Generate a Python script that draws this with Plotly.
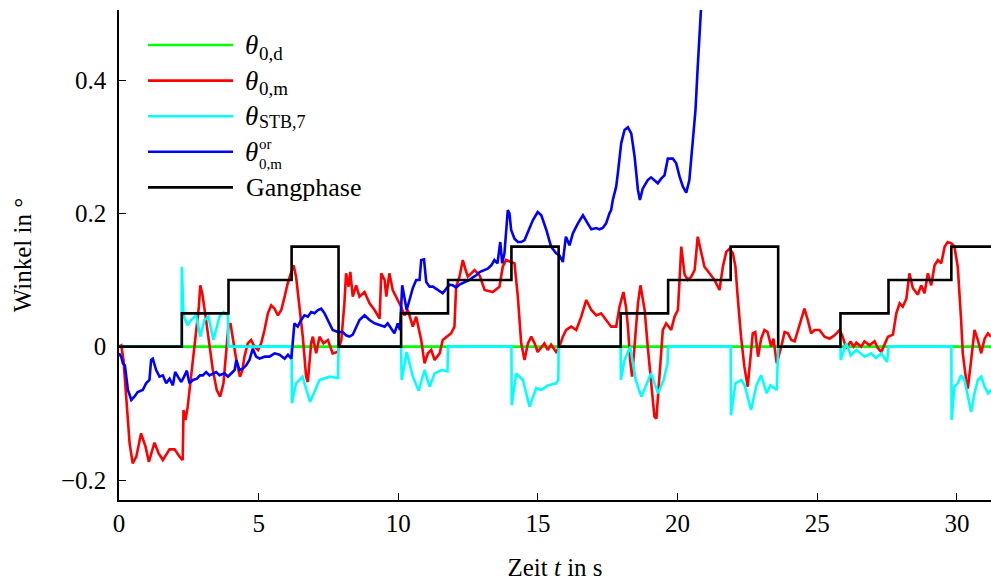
import plotly.graph_objects as go

# ---------------- data ----------------
# Gangphase: step function (value holds until next time)
gang_t = [0, 2.25, 3.92, 6.18, 7.86, 10.10, 11.78, 14.05, 15.74, 17.96, 19.66,
          21.90, 23.60, 25.83, 27.55, 29.80, 31.3]
gang_y = [0, 0.05, 0.10, 0.15, 0, 0.05, 0.10, 0.15, 0, 0.05, 0.10,
          0.15, 0, 0.05, 0.10, 0.15, 0.15]

# theta_0,d (desired): zero over the whole run
theta_d_t = [0, 31.3]
theta_d_y = [0, 0]

# theta_0,m (measured)
theta_m_pts = [
    (0, 0.0), (0.08, 0.002), (0.16, -0.02), (0.26, -0.08), (0.38, -0.145), (0.49, -0.175),
    (0.62, -0.165), (0.79, -0.13), (0.95, -0.15), (1.07, -0.173), (1.27, -0.144), (1.42, -0.16),
    (1.57, -0.17), (1.81, -0.154), (1.99, -0.154), (2.17, -0.165), (2.28, -0.17), (2.31, -0.095),
    (2.38, -0.11), (2.46, -0.09), (2.59, -0.04), (2.70, 0.005), (2.79, 0.035), (2.86, 0.06),
    (2.91, 0.092), (2.98, 0.08), (3.10, 0.045), (3.22, 0.005), (3.36, -0.035), (3.50, -0.065),
    (3.62, -0.075), (3.74, -0.055), (3.84, -0.005), (3.92, 0.032), (3.99, 0.035), (4.10, 0.005),
    (4.20, -0.02), (4.33, -0.045), (4.42, -0.035), (4.49, -0.015), (4.61, 0.005), (4.73, 0.01),
    (4.85, 0.0), (4.98, -0.005), (5.09, 0.005), (5.21, 0.025), (5.33, 0.05), (5.45, 0.062),
    (5.57, 0.057), (5.69, 0.047), (5.81, 0.055), (5.93, 0.075), (6.04, 0.095), (6.17, 0.112),
    (6.25, 0.122), (6.34, 0.105), (6.46, 0.06), (6.58, 0.015), (6.70, -0.045), (6.76, -0.053),
    (6.88, 0.005), (6.94, 0.015), (7.06, -0.01), (7.18, 0.015), (7.32, 0.005), (7.48, 0.01),
    (7.65, -0.01), (7.83, -0.008), (7.96, 0.01), (8.07, 0.065), (8.13, 0.11), (8.22, 0.09),
    (8.28, 0.112), (8.37, 0.075), (8.49, 0.092), (8.61, 0.075), (8.79, 0.082), (8.97, 0.065),
    (9.15, 0.055), (9.33, 0.042), (9.39, 0.11), (9.51, 0.1), (9.57, 0.075), (9.68, 0.11),
    (9.80, 0.085), (9.98, 0.07), (10.10, 0.06), (10.22, 0.047), (10.34, 0.055), (10.52, 0.03),
    (10.64, 0.045), (10.82, 0.01), (10.94, -0.025), (11.06, -0.01), (11.18, -0.005), (11.30, -0.02),
    (11.48, -0.01), (11.59, 0.01), (11.72, 0.015), (11.89, 0.02), (12.01, 0.03), (12.07, 0.09),
    (12.19, 0.105), (12.31, 0.13), (12.41, 0.115), (12.49, 0.105), (12.61, 0.11), (12.73, 0.115),
    (12.91, 0.107), (13.09, 0.085), (13.38, 0.082), (13.62, 0.09), (13.74, 0.12), (13.86, 0.13),
    (14.04, 0.127), (14.16, 0.125), (14.28, 0.075), (14.40, 0.005), (14.52, -0.02), (14.64, 0.005),
    (14.76, 0.015), (14.88, 0.005), (14.99, -0.008), (15.12, 0.0), (15.23, 0.005), (15.35, -0.005),
    (15.47, 0.003), (15.65, -0.008), (15.77, 0.0), (15.89, 0.015), (16.01, 0.025), (16.19, 0.03),
    (16.37, 0.025), (16.55, 0.045), (16.73, 0.07), (16.91, 0.055), (17.09, 0.047), (17.26, 0.05),
    (17.44, 0.04), (17.62, 0.03), (17.80, 0.03), (17.92, 0.06), (18.06, 0.082), (18.15, 0.06),
    (18.22, 0.03), (18.30, -0.02), (18.37, -0.045), (18.46, 0.005), (18.58, 0.065), (18.67, 0.092),
    (18.82, 0.055), (18.93, 0.0), (19.05, -0.055), (19.17, -0.105), (19.24, -0.108), (19.35, -0.04),
    (19.47, 0.025), (19.59, 0.035), (19.77, 0.025), (19.89, 0.045), (20.01, 0.055), (20.07, 0.1),
    (20.13, 0.15), (20.25, 0.108), (20.37, 0.1), (20.49, 0.105), (20.61, 0.115), (20.72, 0.165),
    (20.84, 0.14), (20.96, 0.12), (21.14, 0.11), (21.32, 0.1), (21.50, 0.085), (21.62, 0.12),
    (21.74, 0.142), (21.86, 0.147), (21.98, 0.14), (22.07, 0.12), (22.15, 0.075), (22.27, 0.015),
    (22.39, -0.03), (22.51, -0.06), (22.60, -0.02), (22.69, 0.02), (22.78, 0.022), (22.88, -0.015),
    (22.99, 0.012), (23.11, 0.025), (23.22, 0.022), (23.35, 0.0), (23.43, 0.012), (23.55, -0.025),
    (23.71, 0.0), (23.83, 0.022), (23.95, 0.02), (24.07, 0.01), (24.19, 0.008), (24.37, 0.035),
    (24.54, 0.057), (24.66, 0.04), (24.78, 0.02), (24.90, 0.025), (25.08, 0.025), (25.26, 0.015),
    (25.44, 0.012), (25.62, 0.017), (25.80, 0.025), (25.91, 0.015), (26.04, -0.003), (26.19, 0.008),
    (26.30, 0.0), (26.40, 0.006), (26.57, 0.0), (26.69, 0.008), (26.87, 0.002), (27.05, 0.008),
    (27.17, -0.002), (27.29, -0.008), (27.41, 0.003), (27.53, 0.015), (27.71, 0.018), (27.83, 0.05),
    (27.95, 0.065), (28.06, 0.06), (28.19, 0.072), (28.30, 0.11), (28.42, 0.088), (28.60, 0.078),
    (28.72, 0.092), (28.84, 0.08), (28.96, 0.11), (29.08, 0.092), (29.20, 0.122), (29.32, 0.13),
    (29.44, 0.125), (29.56, 0.15), (29.67, 0.157), (29.80, 0.155), (29.91, 0.15), (30.03, 0.12),
    (30.15, 0.04), (30.21, -0.01), (30.33, -0.05), (30.39, -0.063), (30.51, -0.02), (30.63, 0.025),
    (30.75, 0.01), (30.87, -0.01), (30.99, 0.012), (31.11, 0.02), (31.22, 0.015),
]

# theta_STB,7
theta_stb_pts = [
    (0, 0), (2.24, 0), (2.25, 0.12), (2.31, 0.047), (2.45, 0.032), (2.58, 0.04), (2.76, 0.047),
    (2.91, 0.015), (3.06, 0.04), (3.20, 0.045), (3.38, 0.01), (3.60, 0.045), (3.74, 0.052),
    (3.90, 0.047), (3.92, 0), (6.18, 0), (6.19, -0.085), (6.34, -0.055), (6.57, -0.045),
    (6.84, -0.083), (7.18, -0.05), (7.54, -0.045), (7.84, -0.047), (7.86, 0), (10.10, 0),
    (10.12, -0.05), (10.30, -0.008), (10.52, -0.045), (10.73, -0.066), (10.94, -0.035),
    (11.12, -0.06), (11.30, -0.04), (11.54, -0.035), (11.76, -0.037), (11.78, 0), (14.05, 0),
    (14.06, -0.088), (14.22, -0.04), (14.46, -0.05), (14.70, -0.09), (14.94, -0.062),
    (15.12, -0.065), (15.35, -0.058), (15.65, -0.055), (15.73, -0.05), (15.74, 0), (17.96, 0),
    (17.97, -0.05), (18.10, -0.02), (18.30, 0.0), (18.50, -0.05), (18.70, -0.075), (18.85, -0.06),
    (19.05, -0.04), (19.30, -0.07), (19.50, -0.05), (19.64, -0.025), (19.66, 0), (21.90, 0),
    (21.91, -0.103), (22.07, -0.055), (22.28, -0.05), (22.40, -0.058), (22.63, -0.095),
    (22.82, -0.058), (22.99, -0.043), (23.19, -0.07), (23.32, -0.058), (23.55, -0.065),
    (23.60, 0), (25.83, 0), (25.84, -0.02), (26.04, 0.005), (26.20, -0.013), (26.40, -0.005),
    (26.70, -0.015), (26.93, -0.01), (27.10, -0.017), (27.29, -0.01), (27.50, -0.023),
    (27.55, 0), (29.80, 0), (29.81, -0.11), (29.91, -0.06), (30.03, -0.055), (30.15, -0.043),
    (30.27, -0.05), (30.39, -0.075), (30.51, -0.098), (30.63, -0.07), (30.75, -0.05),
    (30.87, -0.045), (30.99, -0.06), (31.11, -0.07), (31.22, -0.065),
]

# theta^or_0,m
theta_or_pts = [
    (0, -0.01), (0.08, -0.015), (0.14, -0.025), (0.21, -0.028), (0.32, -0.065), (0.44, -0.08),
    (0.55, -0.075), (0.67, -0.068), (0.85, -0.065), (0.97, -0.055), (1.09, -0.05), (1.15, -0.02),
    (1.21, -0.018), (1.33, -0.035), (1.45, -0.045), (1.57, -0.043), (1.69, -0.055), (1.81, -0.048),
    (1.93, -0.058), (2.01, -0.038), (2.11, -0.045), (2.23, -0.053), (2.33, -0.045), (2.43, -0.036),
    (2.52, -0.055), (2.65, -0.05), (2.79, -0.048), (2.90, -0.043), (3.00, -0.043), (3.12, -0.038),
    (3.24, -0.043), (3.36, -0.04), (3.48, -0.038), (3.60, -0.043), (3.78, -0.04), (3.90, -0.045),
    (4.02, -0.04), (4.14, -0.035), (4.20, -0.02), (4.31, -0.035), (4.43, -0.033), (4.55, -0.028),
    (4.67, -0.02), (4.79, -0.003), (4.91, -0.015), (5.03, -0.018), (5.21, -0.015), (5.39, -0.015),
    (5.57, -0.01), (5.75, -0.012), (5.93, -0.018), (6.05, -0.012), (6.17, -0.018), (6.28, 0.035),
    (6.40, 0.03), (6.52, 0.04), (6.64, 0.047), (6.76, 0.045), (6.88, 0.052), (7.00, 0.05),
    (7.12, 0.055), (7.24, 0.057), (7.36, 0.05), (7.54, 0.035), (7.65, 0.025), (7.83, 0.022),
    (8.01, 0.022), (8.13, 0.017), (8.25, 0.015), (8.37, 0.018), (8.49, 0.03), (8.61, 0.04),
    (8.79, 0.047), (8.97, 0.04), (9.15, 0.035), (9.33, 0.032), (9.51, 0.03), (9.62, 0.035),
    (9.75, 0.027), (9.86, 0.02), (9.98, 0.035), (10.06, 0.025), (10.14, 0.092), (10.22, 0.075),
    (10.30, 0.055), (10.40, 0.07), (10.52, 0.088), (10.64, 0.1), (10.76, 0.1), (10.82, 0.13),
    (10.92, 0.131), (11.00, 0.097), (11.12, 0.09), (11.24, 0.09), (11.36, 0.087), (11.48, 0.083),
    (11.59, 0.08), (11.72, 0.087), (11.83, 0.093), (11.95, 0.092), (12.07, 0.089), (12.19, 0.093),
    (12.31, 0.095), (12.43, 0.097), (12.55, 0.1), (12.67, 0.104), (12.79, 0.107), (12.91, 0.112),
    (13.09, 0.115), (13.20, 0.117), (13.33, 0.122), (13.44, 0.13), (13.55, 0.125), (13.65, 0.157),
    (13.72, 0.125), (13.80, 0.14), (13.92, 0.205), (13.98, 0.2), (14.04, 0.175), (14.16, 0.162),
    (14.28, 0.157), (14.40, 0.157), (14.52, 0.16), (14.64, 0.172), (14.82, 0.19), (14.99, 0.202),
    (15.12, 0.197), (15.30, 0.175), (15.47, 0.15), (15.65, 0.14), (15.77, 0.137), (15.89, 0.127),
    (16.00, 0.165), (16.13, 0.152), (16.25, 0.17), (16.43, 0.185), (16.61, 0.197), (16.78, 0.185),
    (16.91, 0.176), (17.09, 0.178), (17.20, 0.176), (17.32, 0.178), (17.44, 0.185), (17.56, 0.2),
    (17.62, 0.205), (17.68, 0.22), (17.80, 0.24), (17.86, 0.26), (17.98, 0.305), (18.10, 0.325),
    (18.22, 0.329), (18.34, 0.32), (18.46, 0.285), (18.58, 0.235), (18.65, 0.22), (18.75, 0.237),
    (18.93, 0.25), (19.05, 0.254), (19.17, 0.25), (19.29, 0.245), (19.41, 0.252), (19.53, 0.257),
    (19.65, 0.282), (19.83, 0.282), (19.95, 0.275), (20.07, 0.255), (20.19, 0.24), (20.31, 0.231),
    (20.42, 0.25), (20.54, 0.305), (20.64, 0.355), (20.72, 0.42), (20.78, 0.47), (20.84, 0.505),
    (20.91, 0.56),
]

x_ticks = [0, 5, 10, 15, 20, 25, 30]
y_ticks = [-0.2, 0, 0.2, 0.4]
y_tick_text = ["\u22120.2", "0", "0.2", "0.4"]

# ---------------- figure ----------------
W, H = 991, 581
ML, MR, MT, MB = 119, 0, 10, 81
PW, PH = W - ML - MR, H - MT - MB
FONT = "Liberation Serif, DejaVu Serif, serif"
LW = 2.6

def split(pts):
    return [p[0] for p in pts], [p[1] for p in pts]

fig = go.Figure()
fig.add_trace(go.Scatter(x=theta_d_t, y=theta_d_y, mode="lines", name="θ0,d",
                         line=dict(color="#00ff00", width=LW)))
t, y = split(theta_m_pts)
fig.add_trace(go.Scatter(x=t, y=y, mode="lines", name="θ0,m",
                         line=dict(color="#ff0000", width=LW)))
t, y = split(theta_stb_pts)
fig.add_trace(go.Scatter(x=t, y=y, mode="lines", name="θSTB,7",
                         line=dict(color="#00ffff", width=LW)))
t, y = split(theta_or_pts)
fig.add_trace(go.Scatter(x=t, y=y, mode="lines", name="θor0,m",
                         line=dict(color="#0000ff", width=LW)))
fig.add_trace(go.Scatter(x=gang_t, y=gang_y, mode="lines", name="Gangphase",
                         line=dict(color="#000000", width=LW, shape="hv")))

axis_common = dict(showgrid=False, zeroline=False, showline=True, linecolor="black",
                   linewidth=1.5, ticks="inside", ticklen=7, tickwidth=1.3,
                   tickcolor="black", tickfont=dict(family=FONT, size=25, color="black"),
                   automargin=False)
fig.update_xaxes(range=[0, 31.22], tickvals=x_ticks, **axis_common,
                 title=dict(text="Zeit <i>t</i> in s", standoff=28,
                            font=dict(family=FONT, size=25, color="black")))
fig.update_yaxes(range=[-0.23, 0.505], tickvals=y_ticks, ticktext=y_tick_text,
                 ticklabelstandoff=6, **axis_common,
                 title=dict(text="Winkel in °", standoff=22,
                            font=dict(family=FONT, size=25, color="black")))

# ---------------- custom legend (long line samples like the original) ----------------
def xp(px):
    return (px - ML) / PW

def yp(py):
    return (H - MB - py) / PH

# (colour, subscript text, subscript size, vertical offset of the subscript block)
legend_items = [
    ("#00ff00", "0,d", 19, 8),
    ("#ff0000", "0,m", 19, 8),
    ("#00ffff", "STB,7", 18, 5.5),
    ("#0000ff", "or<br>0,m", 15, 2.5),
    ("#000000", None, None, None),
]
shapes, annos = [], []
row0, drow = 45, 35.6
for i, (col, sub, ssize, soff) in enumerate(legend_items):
    py = row0 + i * drow
    shapes.append(dict(type="line", xref="paper", yref="paper", x0=xp(148), x1=xp(233),
                       y0=yp(py), y1=yp(py), line=dict(color=col, width=LW)))
    if sub is None:
        annos.append(dict(text="Gangphase", x=xp(244), y=yp(py), xref="paper", yref="paper",
                          xanchor="left", yanchor="middle", showarrow=False,
                          font=dict(family=FONT, size=26, color="black")))
        continue
    annos.append(dict(text="<i>θ</i>", x=xp(243), y=yp(py), xref="paper", yref="paper",
                      xanchor="left", yanchor="middle", showarrow=False,
                      font=dict(family=FONT, size=27, color="black")))
    annos.append(dict(text=sub, x=xp(257), y=yp(py + soff), xref="paper", yref="paper",
                      xanchor="left", yanchor="middle", align="left", showarrow=False,
                      font=dict(family=FONT, size=ssize, color="black")))

fig.update_layout(width=W, height=H, margin=dict(l=ML, r=MR, t=MT, b=MB),
                  paper_bgcolor="white", plot_bgcolor="white", showlegend=False,
                  shapes=shapes, annotations=annos,
                  font=dict(family=FONT, size=25, color="black"))

fig.write_html("out.html")
